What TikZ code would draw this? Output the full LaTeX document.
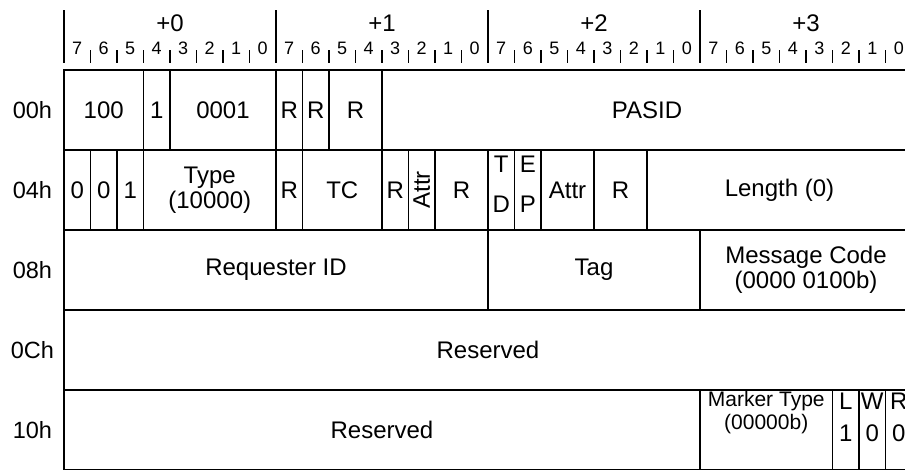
\documentclass[tikz,border=0pt]{standalone}
\usepackage{fontspec}
\setmainfont{Liberation Sans}

\begin{document}
\begin{tikzpicture}[
    x=26.5pt,
    y=-1pt,
    field/.style={
        rectangle,
        draw=black,
        line width=1.8pt,
        minimum height=80pt,
        inner sep=0pt,
        align=center,
        font=\fontsize{24}{25}\selectfont
    },
    span/.style={minimum width=#1*26.5pt},
    subtext/.style={
        inner sep=0pt,
        align=center,
        font=\fontsize{24}{25}\selectfont
    },
    bitnum/.style={inner sep=0pt, font=\fontsize{18}{18}\selectfont},
    bytenum/.style={inner sep=0pt, font=\fontsize{24}{24}\selectfont},
    offset/.style={inner sep=0pt, font=\fontsize{23.5}{23.5}\selectfont},
    byteline/.style={line width=2pt},
    tickline/.style={line width=1.3pt}
]
    \useasboundingbox (-2.4151,0) rectangle (31.7358,469);
    \clip (-2.4151,0) rectangle (31.7358,469);

    % Byte and bit header
    \foreach \b in {0,...,3} {
        \draw[byteline] (8*\b,10) -- (8*\b,63);
        \node[bytenum] (byte\b) at (8*\b+4,23) {+\b};
        \foreach \j in {1,...,7}
            \draw[tickline] (8*\b+\j,50) -- (8*\b+\j,63);
    }
    \foreach \k in {0,...,31} {
        \pgfmathtruncatemacro\bit{7-mod(\k,8)}
        \node[bitnum] (bit\k) at (\k+0.5,48.5) {\bit};
    }

    % Offsets
    \node[offset] (off00) at (-1.19,110) {00h};
    \node[offset] (off04) at (-1.19,190) {04h};
    \node[offset] (off08) at (-1.19,270) {08h};
    \node[offset] (off0C) at (-1.19,350) {0Ch};
    \node[offset] (off10) at (-1.19,430) {10h};

    % 00h
    \node[field, span=3] (fmt) at (1.5,110) {100};
    \node[field, span=1] (typebit) at (3.5,110) {1};
    \node[field, span=4] (tlpprefix) at (6,110) {0001};
    \node[field, span=1] (r00a) at (8.5,110) {R};
    \node[field, span=1] (r00b) at (9.5,110) {R};
    \node[field, span=2] (r00c) at (11,110) {R};
    \node[field, span=20] (pasid) at (22,110) {PASID};

    % 04h
    \node[field, span=1] (fmt0) at (0.5,190) {0};
    \node[field, span=1] (fmt1) at (1.5,190) {0};
    \node[field, span=1] (fmt2) at (2.5,190) {1};
    \node[field, span=5] (type) at (5.5,190) {Type\\(10000)};
    \node[field, span=1] (r04a) at (8.5,190) {R};
    \node[field, span=3] (tc) at (10.5,190) {TC};
    \node[field, span=1] (r04b) at (12.5,190) {R};
    \node[field, span=1] (attrhi) at (13.5,190) {};
    \node[subtext, rotate=90] (attrhitext) at (13.5,190) {Attr};
    \node[field, span=2] (r04c) at (15,190) {R};
    \node[field, span=1] (td) at (16.5,190) {};
    \node[subtext] (tdT) at (16.5,164.5) {T};
    \node[subtext] (tdD) at (16.5,204.5) {D};
    \node[field, span=1] (ep) at (17.5,190) {};
    \node[subtext] (epE) at (17.5,164.5) {E};
    \node[subtext] (epP) at (17.5,204.5) {P};
    \node[field, span=2] (attr) at (19,190) {Attr};
    \node[field, span=2] (r04d) at (21,190) {R};
    \node[field, span=10] (length) at (27,190) {Length (0)};

    % 08h
    \node[field, span=16] (reqid) at (8,270) {Requester ID};
    \node[field, span=8] (tag) at (20,270) {Tag};
    \node[field, span=8] (msgcode) at (28,270) {Message Code\\(0000 0100b)};

    % 0Ch
    \node[field, span=32] (rsvd0C) at (16,350) {Reserved};

    % 10h
    \node[field, span=24] (rsvd10) at (12,430) {Reserved};
    \node[field, span=5] (marker) at (26.5,430) {};
    \node[subtext, font=\fontsize{21}{23}\selectfont] (markertext) at (26.5,413) {Marker Type\\(00000b)};
    \node[field, span=1] (lbit) at (29.5,430) {};
    \node[subtext] (lbitname) at (29.5,401) {L};
    \node[subtext] (lbitval) at (29.5,433) {1};
    \node[field, span=1] (wbit) at (30.5,430) {};
    \node[subtext] (wbitname) at (30.5,401) {W};
    \node[subtext] (wbitval) at (30.5,433) {0};
    \node[field, span=1] (rbit) at (31.5,430) {};
    \node[subtext] (rbitname) at (31.5,401) {R};
    \node[subtext] (rbitval) at (31.5,433) {0};
\end{tikzpicture}
\end{document}
